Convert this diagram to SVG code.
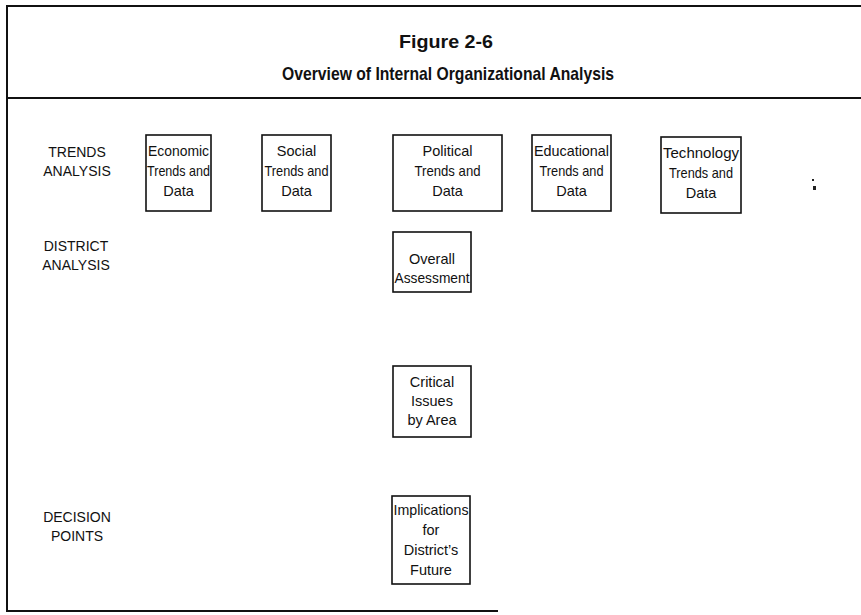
<svg xmlns="http://www.w3.org/2000/svg" width="861" height="615" viewBox="0 0 861 615">
  <style>
    .frame { stroke: #111; stroke-width: 2; fill: none; }
    .box { fill: #fff; stroke: #111; stroke-width: 1.6; }
    .title { font-family: "Liberation Sans", Arial, sans-serif; font-weight: bold; font-size: 18.5px; fill: #111; text-anchor: middle; }
    .label { font-family: "Liberation Sans", Arial, sans-serif; font-size: 14px; fill: #111; text-anchor: middle; }
    .txt { font-family: "Liberation Sans", Arial, sans-serif; font-size: 14.5px; fill: #111; text-anchor: middle; }
    .speck { fill: #222; }
  </style>
  <rect width="861" height="615" fill="#fff"/>

  <!-- outer frame and title divider -->
  <g id="frame">
    <line class="frame" x1="7" y1="6" x2="861" y2="6"/>
    <line class="frame" x1="7" y1="5" x2="7" y2="612"/>
    <line class="frame" x1="7" y1="98" x2="861" y2="98"/>
    <line class="frame" x1="6" y1="611" x2="498" y2="611"/>
  </g>

  <g id="title">
    <text class="title" x="446" y="48" textLength="94" lengthAdjust="spacingAndGlyphs">Figure 2-6</text>
    <text class="title" x="448" y="80" textLength="332" lengthAdjust="spacingAndGlyphs">Overview of Internal Organizational Analysis</text>
  </g>

  <!-- row labels -->
  <g id="row-trends">
    <text class="label" x="77" y="157">TRENDS</text>
    <text class="label" x="77" y="176">ANALYSIS</text>
  </g>
  <g id="row-district">
    <text class="label" x="76" y="251">DISTRICT</text>
    <text class="label" x="76" y="270">ANALYSIS</text>
  </g>
  <g id="row-decision">
    <text class="label" x="77" y="522">DECISION</text>
    <text class="label" x="77" y="541">POINTS</text>
  </g>

  <!-- trend boxes -->
  <g id="economic">
    <rect class="box" x="146" y="135" width="65" height="76"/>
    <text class="txt" x="178.5" y="156" textLength="61" lengthAdjust="spacingAndGlyphs">Economic</text>
    <text class="txt" x="178.5" y="176" textLength="63" lengthAdjust="spacingAndGlyphs">Trends and</text>
    <text class="txt" x="178.5" y="196">Data</text>
  </g>
  <g id="social">
    <rect class="box" x="262" y="135" width="69" height="76"/>
    <text class="txt" x="296.5" y="156">Social</text>
    <text class="txt" x="296.5" y="176" textLength="64" lengthAdjust="spacingAndGlyphs">Trends and</text>
    <text class="txt" x="296.5" y="196">Data</text>
  </g>
  <g id="political">
    <rect class="box" x="393" y="135" width="109" height="76"/>
    <text class="txt" x="447.5" y="156">Political</text>
    <text class="txt" x="447.5" y="176" textLength="66" lengthAdjust="spacingAndGlyphs">Trends and</text>
    <text class="txt" x="447.5" y="196">Data</text>
  </g>
  <g id="educational">
    <rect class="box" x="532" y="135" width="79" height="76"/>
    <text class="txt" x="571.5" y="156" textLength="75" lengthAdjust="spacingAndGlyphs">Educational</text>
    <text class="txt" x="571.5" y="176" textLength="64" lengthAdjust="spacingAndGlyphs">Trends and</text>
    <text class="txt" x="571.5" y="196">Data</text>
  </g>
  <g id="technology">
    <rect class="box" x="661" y="137" width="80" height="76"/>
    <text class="txt" x="701" y="158" textLength="76" lengthAdjust="spacingAndGlyphs">Technology</text>
    <text class="txt" x="701" y="178" textLength="64" lengthAdjust="spacingAndGlyphs">Trends and</text>
    <text class="txt" x="701" y="198">Data</text>
  </g>

  <!-- stray mark right of the trend row -->
  <g id="mark">
    <rect class="speck" x="812" y="179" width="2" height="2"/>
    <rect class="speck" x="813" y="186" width="3" height="4"/>
  </g>

  <!-- district boxes -->
  <g id="overall">
    <rect class="box" x="393" y="232" width="78" height="60"/>
    <text class="txt" x="432" y="264">Overall</text>
    <text class="txt" x="432" y="283" textLength="75" lengthAdjust="spacingAndGlyphs">Assessment</text>
  </g>
  <g id="critical">
    <rect class="box" x="393" y="366" width="78" height="71"/>
    <text class="txt" x="432" y="387">Critical</text>
    <text class="txt" x="432" y="406">Issues</text>
    <text class="txt" x="432" y="425">by Area</text>
  </g>

  <!-- decision box -->
  <g id="implications">
    <rect class="box" x="392" y="496" width="78" height="88"/>
    <text class="txt" x="431" y="515" textLength="75" lengthAdjust="spacingAndGlyphs">Implications</text>
    <text class="txt" x="431" y="535">for</text>
    <text class="txt" x="431" y="555">District’s</text>
    <text class="txt" x="431" y="575">Future</text>
  </g>

  <g id="connectors"></g>
</svg>
